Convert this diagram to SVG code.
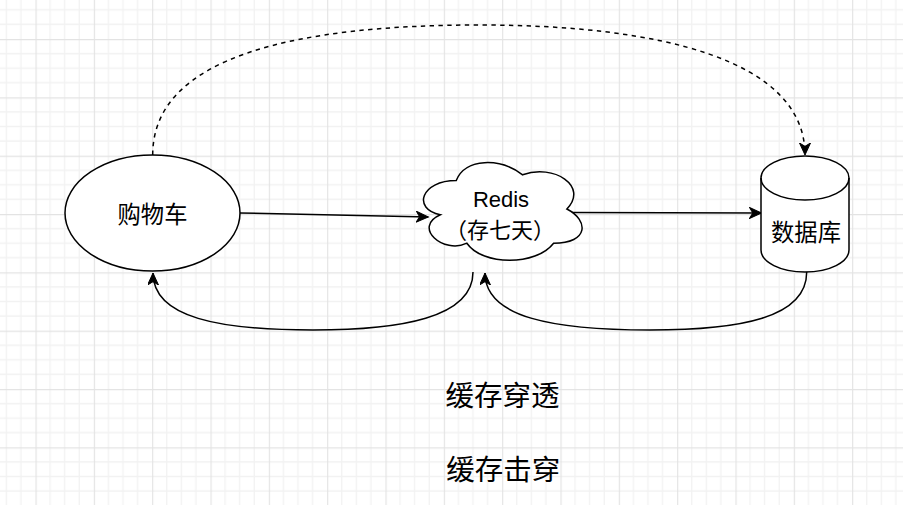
<svg xmlns="http://www.w3.org/2000/svg" width="903" height="505" viewBox="0 0 903 505">
<style>
.shape{fill:#ffffff;stroke:#000000;stroke-width:1.5}
.edge{fill:none;stroke:#000000;stroke-width:1.5}
.dash{stroke-dasharray:4.4 4.4}
.cjk{font-family:"Liberation Sans","Noto Sans CJK SC",sans-serif;fill:#000000;text-anchor:middle}
</style>
<defs>
<pattern id="grid" patternUnits="userSpaceOnUse" x="35.5" y="39" width="58.33" height="58.33">
<path d="M14.58,0V58.33M29.17,0V58.33M43.75,0V58.33M0,14.58H58.33M0,29.17H58.33M0,43.75H58.33" stroke="#f2f2f2" stroke-width="1.3" fill="none"/>
<path d="M0.5,0V58.33M0,0.5H58.33" stroke="#e3e3e3" stroke-width="1.3" fill="none"/>
</pattern>
<marker id="arrow" markerUnits="userSpaceOnUse" markerWidth="14" markerHeight="12" refX="12" refY="5.5" orient="auto">
<path d="M0,0 L12,5.5 L0,11 L3.3,5.5 Z" fill="#000000" stroke="#000000" stroke-width="1"/>
</marker>
</defs>
<rect width="903" height="505" fill="#ffffff"/>
<rect width="903" height="505" fill="url(#grid)"/>
<g id="connectors">
<path class="edge dash" d="M152.7,155 C152.7,55 300,25 480,25 C660,25 805,60 805,155" marker-end="url(#arrow)"/>
<path class="edge" d="M240,213 L428.3,217" marker-end="url(#arrow)"/>
<path class="edge" d="M570,212.5 L761.5,213" marker-end="url(#arrow)"/>
<path class="edge" d="M473,272 C473,318 400,330 313,330 C220,330 153,318 153,273" marker-end="url(#arrow)"/>
<path class="edge" d="M806.7,272 C806.7,318 740,330 650,330 C555,330 485,318 485,273" marker-end="url(#arrow)"/>
</g>
<g id="node-cart">
<ellipse class="shape" cx="152.5" cy="213" rx="87.5" ry="58"/>
<text class="cjk" x="152.5" y="222.5" font-size="23.3">购物车</text>
</g>
<g id="node-redis">
<path class="shape" transform="translate(412,152) scale(177,114)" vector-effect="non-scaling-stroke" d="M0.25,0.25 C0.05,0.25 0,0.5 0.16,0.55 C0,0.66 0.18,0.9 0.31,0.8 C0.4,1 0.7,1 0.8,0.8 C1,0.8 1,0.6 0.875,0.5 C1,0.3 0.8,0.1 0.625,0.2 C0.5,0.05 0.3,0.05 0.25,0.25 Z"/>
<text class="cjk" x="501" y="207" font-size="22">Redis</text>
<text class="cjk" x="500" y="237.5" font-size="22">（存七天）</text>
</g>
<g id="node-db">
<path class="shape" d="M761,178 A44,22 0 0 1 849,178 L849,250 A44,22 0 0 1 761,250 Z"/>
<path class="edge" d="M761,178 A44,22 0 0 0 849,178"/>
<text class="cjk" x="806" y="241.3" font-size="23.3">数据库</text>
</g>
<g id="label-penetration">
<text class="cjk" x="502.5" y="405.5" font-size="28.5">缓存穿透</text>
</g>
<g id="label-breakdown">
<text class="cjk" x="503.3" y="479.5" font-size="28.5">缓存击穿</text>
</g>
</svg>
